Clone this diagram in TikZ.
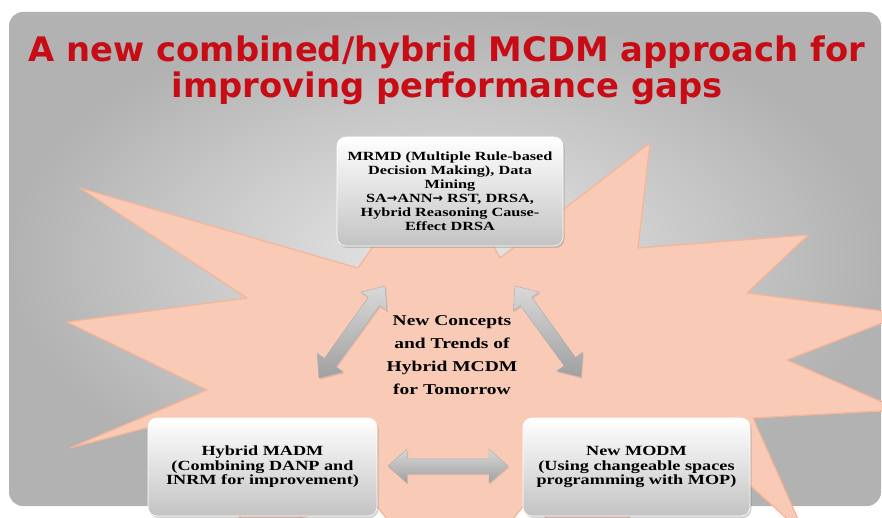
\documentclass[tikz,border=0pt]{standalone}
\usepackage{fontspec}
\usetikzlibrary{calc,shadows}
\newfontfamily\boxfont{Liberation Serif}[FakeStretch=1.3]
\newfontfamily\titlefont{DejaVu Sans}
\definecolor{salmon}{RGB}{249,202,182}
\definecolor{salmonline}{RGB}{247,180,150}
\definecolor{titlered}{RGB}{200,12,22}
\definecolor{panelin}{RGB}{232,232,232}
\definecolor{panelout}{RGB}{178,178,178}
\definecolor{boxbottom}{RGB}{195,195,195}
\newcommand{\fatarrow}[4]{% from, to, head half width, shaft half width
 \path[arrowshade] let \p1=($(#2)-(#1)$), \n1={atan2(\y1,\x1)}, \n2={veclen(\x1,\y1)} in
 [shift={(#1)}, rotate=\n1]
 (0pt,0pt) -- (19pt,#3) -- (19pt,#4) -- (\n2-19pt,#4) -- (\n2-19pt,#3) -- (\n2,0pt)
 -- (\n2-19pt,-#3) -- (\n2-19pt,-#4) -- (19pt,-#4) -- (19pt,-#3) -- cycle;
}
\begin{document}
\begin{tikzpicture}[x=1pt,y=-1pt,
 ideabox/.style={rounded corners=9pt, top color=white, bottom color=boxbottom, draw=white, line width=0.6pt,
  drop shadow={opacity=0.35, shadow xshift=1.5pt, shadow yshift=-2pt}, align=center, inner sep=0pt},
 arrowshade/.style={top color=gray!30, bottom color=gray!75, draw=gray!65, line width=0.4pt,
  drop shadow={opacity=0.25, shadow xshift=1pt, shadow yshift=-1.5pt}}]
\useasboundingbox (0,0) rectangle (882,518);

% background panel
\shade[inner color=panelin, outer color=panelout, rounded corners=14pt] (9,12) rectangle (881,506);

% star burst
\begin{scope}
\clip (0,0) rectangle (882,518);
\filldraw[fill=salmon, draw=salmonline, line width=1.2pt, line join=round]
 (80,188) -- (247,298) -- (67,322) -- (207,390) -- (70,448) -- (165,423) -- (250,530) -- (372,500)
 -- (450,600) -- (528,500) -- (590,560) -- (700,440) -- (805,535) -- (753,418) -- (900,410)
 -- (787,360) -- (905,314) -- (747,293) -- (808,235) -- (638,248) -- (650,143) -- (500,258)
 -- (440,150) -- (358,268) -- cycle;
\end{scope}

% title
\node[font=\titlefont\bfseries\fontsize{33.8}{36}\selectfont, text=titlered, align=center]
 (title) at (447,70) {A new combined/hybrid MCDM approach for\\ improving performance gaps};

% arrows
\coordinate (upl) at (385,286);
\coordinate (lowl) at (319,378);
\coordinate (upr) at (515,286);
\coordinate (lowr) at (581,377);
\coordinate (midl) at (388,466);
\coordinate (midr) at (508,466);
\fatarrow{upl}{lowl}{16pt}{7pt}
\fatarrow{upr}{lowr}{16pt}{7pt}
\fatarrow{midl}{midr}{17pt}{7.5pt}

% boxes
\node[ideabox, minimum width=226pt, minimum height=109pt, font=\boxfont\bfseries\fontsize{12.5}{14}\selectfont]
 (mrmd) at (450,191.5) {MRMD (Multiple Rule-based\\ Decision Making), Data\\ Mining\\
 SA{\titlefont\bfseries→}ANN{\titlefont\bfseries→} RST, DRSA,\\ Hybrid Reasoning Cause-\\ Effect DRSA};
\node[ideabox, minimum width=229pt, minimum height=98pt, font=\boxfont\bfseries\fontsize{14}{14.5}\selectfont]
 (madm) at (262.5,467) {Hybrid MADM\\ (Combining DANP and\\ INRM for improvement)};
\node[ideabox, minimum width=227pt, minimum height=98pt, font=\boxfont\bfseries\fontsize{14}{14.5}\selectfont]
 (modm) at (636.5,467) {New MODM\\ (Using changeable spaces\\ programming with MOP)};

\node[font=\boxfont\bfseries\fontsize{15}{23}\selectfont, align=center]
 (trends) at (452,355) {New Concepts\\ and Trends of\\ Hybrid MCDM\\ for Tomorrow};
\end{tikzpicture}
\end{document}
